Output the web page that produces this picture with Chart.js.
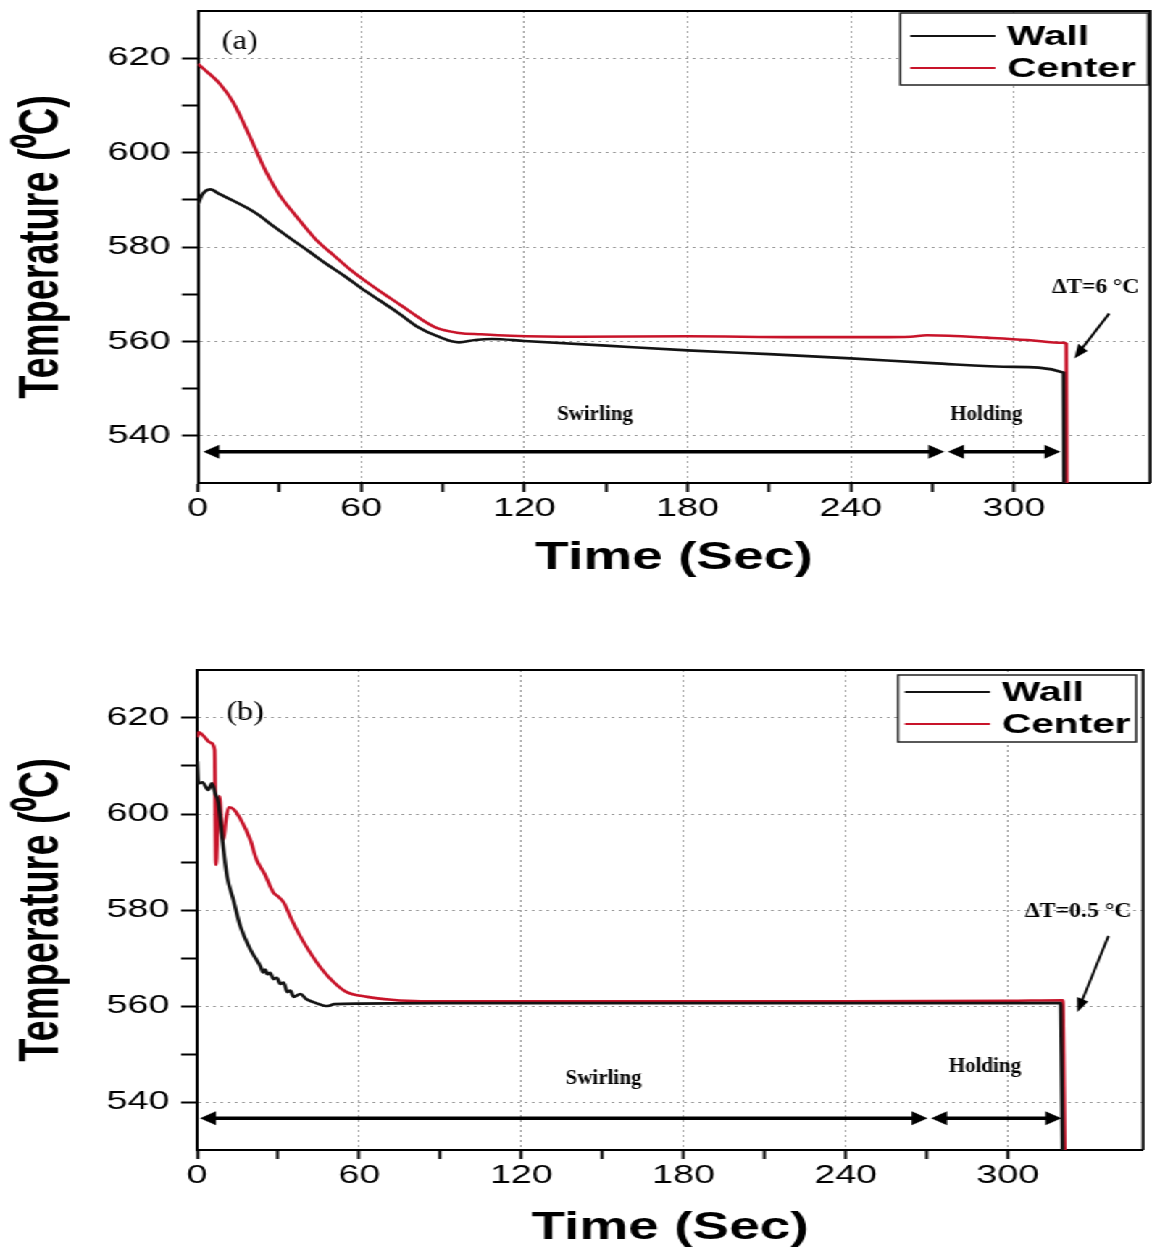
<!DOCTYPE html>
<html>
<head>
<meta charset="utf-8">
<script src="https://cdn.jsdelivr.net/npm/chart.js@4.4.0/dist/chart.umd.min.js"></script>
<style>
  html, body { margin: 0; padding: 0; background: #fff; overflow: hidden; }
  /* the original figure is stretched sideways, so draw narrow and widen */
  #wrap { width: 795px; transform: scaleX(1.449057); transform-origin: 0 0; }
  canvas { display: block; }
</style>
</head>
<body>
<div id="wrap">
  <canvas id="chartA" width="795" height="640"></canvas>
  <canvas id="chartB" width="795" height="611"></canvas>
</div>
<script>
// ---- data (time in s, temperature in deg C) ----
const tWallA   = [0, 1.5, 4.5, 8, 13, 18, 22, 28, 35, 41, 47, 54, 60, 67, 74, 81, 88, 96, 102, 108, 120, 150, 180, 210, 240, 270, 300, 318.2, 318.4];
const wallA    = [589, 591, 592.2, 591.2, 589.8, 588.3, 586.9, 584.3, 581.4, 579, 576.5, 573.8, 571.3, 568.6, 565.9, 563, 561.1, 559.8, 560.3, 560.5, 560.1, 559.1, 558.1, 557.3, 556.4, 555.4, 554.6, 553.4, 530];
const tCenterA = [0, 3, 8, 13, 19, 25, 30, 34, 39, 44, 50, 56, 62, 68, 75, 81, 88, 96, 104, 115, 140, 180, 220, 250, 262, 268, 276, 290, 305, 318, 319.2, 319.4];
const centerA  = [618.8, 617.3, 614.6, 610.6, 603.5, 596, 591, 588, 584.5, 581.2, 578.2, 575.2, 572.6, 570.2, 567.5, 565.1, 562.8, 561.8, 561.5, 561.2, 561.0, 561.1, 560.9, 560.9, 561.0, 561.3, 561.2, 560.8, 560.3, 559.7, 559.5, 530];

const tWallB   = [0, 0.5, 2, 4.1, 5.5, 6.7, 7.9, 9.5, 11.1, 13.4, 16, 19.7, 23.4, 24.5, 25.2, 26, 27, 28.3, 29.5, 30.8, 32, 33.4, 34.5, 35.7, 38.2, 40.5, 43.1, 48.3, 50.8, 60, 90, 150, 210, 270, 319.5, 319.8, 320.2];
const wallB    = [611, 606.4, 606.6, 605, 606.4, 604.3, 602.3, 594, 587, 582.2, 576.6, 571.8, 568.3, 567, 567.6, 566.6, 566.9, 565.6, 565.9, 564.6, 564.9, 562.9, 563.2, 561.9, 562.5, 561.4, 560.8, 560.0, 560.4, 560.5, 560.6, 560.6, 560.6, 560.6, 560.6, 550, 530];
const tCenterB = [0, 0.7, 2.5, 4.8, 6.5, 7.0, 7.6, 8.3, 9.2, 9.8, 10.6, 11.7, 13.5, 16, 19.7, 22, 25, 28.3, 30, 32, 35, 38.2, 42, 46, 50.5, 55, 63, 72, 82.8, 120, 180, 240, 300, 320.3, 320.6, 321];
const centerB  = [616, 617, 616.2, 614.9, 613.3, 589.4, 598, 603.7, 596, 594.6, 598.5, 601.4, 601, 599, 594.6, 590.5, 587.5, 583.6, 582.8, 581.6, 578, 574.5, 571, 567.8, 565, 563, 561.9, 561.3, 561.0, 561.0, 561.0, 561.0, 561.1, 561.2, 550, 530];

const seriesNames = ['Wall', 'Center'];
const xTickLabels = [0, 60, 120, 180, 240, 300];
const yTickLabels = [540, 560, 580, 600, 620];

// ---- styling ----
const S = 1152 / 795;
const WALL_COLOR = '#141414';
const CENTER_COLOR = '#c8142a';
const GRID = '#9c9c9c';
const SANS = "'Liberation Sans', Arial, sans-serif";
const SERIF = "'Liberation Serif', 'Times New Roman', serif";

function series(ts, vs) {
  return ts.map((t, i) => ({ x: t, y: vs[i] }));
}

// text drawn in "picture" proportions (undo part of the sideways stretch)
function drawText(ctx, text, x, y, font, sx) {
  ctx.save();
  ctx.translate(x, y);
  ctx.scale(sx / S, 1);
  ctx.font = font;
  ctx.fillStyle = '#000';
  ctx.textAlign = 'center';
  ctx.textBaseline = 'middle';
  ctx.fillText(text, 0, 0);
  ctx.restore();
}

function drawArrow(ctx, x1, y1, x2, y2, a) {
  ctx.save();
  ctx.scale(1 / S, 1);
  const X1 = x1 * S, X2 = x2 * S;
  const dx = X2 - X1, dy = y2 - y1, L = Math.hypot(dx, dy);
  const ux = dx / L, uy = dy / L;
  let sx = X1, sy = y1;
  if (a.both) { sx += ux * a.len * 0.8; sy += uy * a.len * 0.8; }
  const ex = X2 - ux * a.len * 0.8, ey = y2 - uy * a.len * 0.8;
  ctx.strokeStyle = '#000';
  ctx.fillStyle = '#000';
  ctx.lineWidth = a.w;
  ctx.beginPath();
  ctx.moveTo(sx, sy);
  ctx.lineTo(ex, ey);
  ctx.stroke();
  const head = (tx, ty, vx, vy) => {
    ctx.beginPath();
    ctx.moveTo(tx, ty);
    ctx.lineTo(tx - vx * a.len - vy * a.half, ty - vy * a.len + vx * a.half);
    ctx.lineTo(tx - vx * a.len + vy * a.half, ty - vy * a.len - vx * a.half);
    ctx.closePath();
    ctx.fill();
  };
  head(X2, y2, ux, uy);
  if (a.both) head(X1, y1, -ux, -uy);
  ctx.restore();
}

function annotations(c) {
  return {
    id: 'annotations',
    afterDatasetsDraw(chart) {
      const ctx = chart.ctx, xs = chart.scales.x, ys = chart.scales.y, ca = chart.chartArea;

      // top and right frame
      ctx.save();
      ctx.strokeStyle = '#000';
      ctx.lineWidth = 2;
      ctx.beginPath();
      ctx.moveTo(ca.left, ca.top);
      ctx.lineTo(ca.right, ca.top);
      ctx.lineTo(ca.right, ca.bottom);
      ctx.stroke();
      ctx.restore();

      c.arrows.forEach(a => drawArrow(ctx,
        xs.getPixelForValue(a.t1), ys.getPixelForValue(a.T1),
        xs.getPixelForValue(a.t2), ys.getPixelForValue(a.T2), a));

      c.notes.forEach(n => drawText(ctx, n.text,
        xs.getPixelForValue(n.t), ys.getPixelForValue(n.T), n.font, n.sx));

      // legend box
      const lg = c.legend;
      const bx = ca.right - lg.inset - lg.w, by = ca.top + lg.top;
      ctx.save();
      ctx.fillStyle = '#fff';
      ctx.fillRect(bx, by, lg.w, lg.h);
      ctx.strokeStyle = '#222';
      ctx.lineWidth = 1.5;
      ctx.strokeRect(bx, by, lg.w, lg.h);
      chart.data.datasets.forEach((d, i) => {
        const y = by + lg.rows[i];
        ctx.strokeStyle = d.borderColor;
        ctx.lineWidth = 2;
        ctx.beginPath();
        ctx.moveTo(bx + lg.line[0], y);
        ctx.lineTo(bx + lg.line[1], y);
        ctx.stroke();
        ctx.fillStyle = '#000';
        ctx.font = 'bold 28px ' + SANS;
        ctx.textAlign = 'left';
        ctx.textBaseline = 'middle';
        ctx.fillText(d.label, bx + lg.textX, y + 1);
      });
      ctx.restore();
    }
  };
}

function makeChart(id, c) {
  const tickFont = { family: SANS, size: 26, weight: 'normal' };
  const titleFont = { family: SANS, size: 38, weight: 'bold' };
  const line = { borderWidth: 2.6, pointRadius: 0, cubicInterpolationMode: 'monotone' };
  return new Chart(document.getElementById(id), {
    type: 'line',
    data: {
      datasets: [
        Object.assign({ label: seriesNames[0], data: series(c.tWall, c.wall), borderColor: WALL_COLOR }, line),
        Object.assign({ label: seriesNames[1], data: series(c.tCenter, c.center), borderColor: CENTER_COLOR }, line)
      ]
    },
    options: {
      responsive: false,
      animation: false,
      devicePixelRatio: 1,
      layout: { padding: { top: c.padTop, right: c.padRight, left: 0, bottom: 0 } },
      plugins: { legend: { display: false }, tooltip: { enabled: false } },
      scales: {
        x: {
          type: 'linear', min: 0, max: 350,
          afterFit: s => { s.height = c.xAxisH; s.paddingLeft = 0; s.paddingRight = 0; },
          ticks: {
            stepSize: 30, autoSkip: false, maxRotation: 0, padding: 1, color: '#000', font: tickFont,
            callback: v => xTickLabels.includes(v) ? String(v) : ''
          },
          grid: {
            color: ctx => (ctx.tick && ctx.tick.value > 0 && xTickLabels.includes(ctx.tick.value)) ? GRID : 'transparent',
            lineWidth: 1, tickLength: 9, tickWidth: 2,
            tickColor: ctx => (ctx.tick && ctx.tick.value % 30 === 0 && ctx.tick.value <= 330) ? '#000' : 'transparent'
          },
          border: { color: '#000', width: 2, dash: [2, 3] },
          title: { display: true, text: 'Time (Sec)', color: '#000', font: titleFont, padding: { top: 0, bottom: c.xTitlePad } }
        },
        y: {
          min: 530, max: 630,
          afterFit: s => { s.width = c.yAxisW; s.paddingTop = 0; s.paddingBottom = 0; },
          ticks: {
            stepSize: 10, autoSkip: false, padding: 8, color: '#000', font: tickFont,
            callback: v => yTickLabels.includes(v) ? String(v) : ''
          },
          grid: {
            color: ctx => (ctx.tick && yTickLabels.includes(ctx.tick.value)) ? GRID : 'transparent',
            lineWidth: 1, tickLength: 11, tickWidth: 2,
            tickColor: ctx => (ctx.tick && ctx.tick.value > 530 && ctx.tick.value < 630) ? '#000' : 'transparent'
          },
          border: { color: '#000', width: 2, dash: [2, 3] },
          title: { display: true, text: 'Temperature (\u2070C)', color: '#000', font: titleFont, padding: { top: 7, bottom: 0 } }
        }
      }
    },
    plugins: [annotations(c)]
  });
}

const noteFont = 'bold 21px ' + SERIF;
const phaseArrow = { w: 3.5, len: 16, half: 7, both: true };
const pointer = { w: 2.5, len: 14, half: 6, both: false };

makeChart('chartA', {
  tWall: tWallA, wall: wallA, tCenter: tCenterA, center: centerA,
  padTop: 11, padRight: 1.4, yAxisW: 136.6, xAxisH: 157, xTitlePad: 59,
  notes: [
    { text: '(a)', t: 15.4, T: 623.4, font: '27px ' + SERIF, sx: 1.2 },
    { text: 'Swirling', t: 146, T: 544.5, font: noteFont, sx: 1.0 },
    { text: 'Holding', t: 289.8, T: 544.5, font: noteFont, sx: 1.0 },
    { text: '\u0394T=6 \u00B0C', t: 330, T: 571.4, font: 'bold 20px ' + SERIF, sx: 1.17 }
  ],
  arrows: [
    Object.assign({ t1: 2, T1: 536.6, t2: 274.4, T2: 536.6 }, phaseArrow),
    Object.assign({ t1: 275.7, T1: 536.6, t2: 317.1, T2: 536.6 }, phaseArrow),
    Object.assign({ t1: 335, T1: 565.9, t2: 322.2, T2: 556.4 }, pointer)
  ],
  legend: { inset: 1.3, top: 2, w: 171, h: 72, rows: [23, 55], line: [6.9, 65.6], textX: 73.8 }
});

makeChart('chartB', {
  tWall: tWallB, wall: wallB, tCenter: tCenterB, center: centerB,
  padTop: 30, padRight: 6.2, yAxisW: 136, xAxisH: 101, xTitlePad: 0,
  notes: [
    { text: '(b)', t: 17.8, T: 621, font: '27px ' + SERIF, sx: 1.2 },
    { text: 'Swirling', t: 150.4, T: 544.9, font: noteFont, sx: 1.0 },
    { text: 'Holding', t: 291.5, T: 547.4, font: noteFont, sx: 1.0 },
    { text: '\u0394T=0.5 \u00B0C', t: 326, T: 579.6, font: 'bold 20px ' + SERIF, sx: 1.19 }
  ],
  arrows: [
    Object.assign({ t1: 1.1, T1: 536.6, t2: 270.3, T2: 536.6 }, phaseArrow),
    Object.assign({ t1: 271.6, T1: 536.6, t2: 319.8, T2: 536.6 }, phaseArrow),
    Object.assign({ t1: 337.2, T1: 574.6, t2: 325.7, T2: 558.7 }, pointer)
  ],
  legend: { inset: 4.8, top: 5, w: 164.3, h: 67, rows: [17, 49], line: [4.8, 63.5], textX: 71.8 }
});
</script>
</body>
</html>
